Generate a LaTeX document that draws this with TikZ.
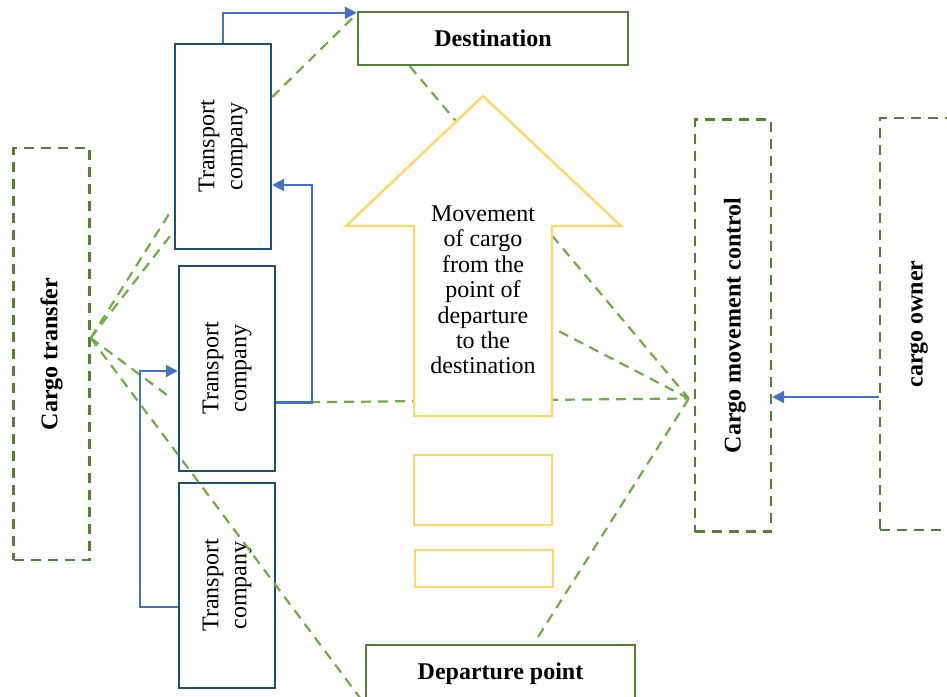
\documentclass[tikz,border=0pt]{standalone}
\usepackage{fontspec}
\setmainfont{Liberation Serif}
\usetikzlibrary{arrows.meta,calc}
\definecolor{dgreen}{HTML}{548235}
\definecolor{lgreen}{HTML}{70AD47}
\definecolor{dblue}{HTML}{1F4E79}
\definecolor{ablue}{HTML}{4472C4}
\definecolor{gold}{HTML}{FFD966}
\tikzset{
  destbox/.style={draw=dgreen, line width=1.2pt, fill=white, inner sep=0pt, font=\bfseries\fontsize{12}{14}\selectfont},
  tcbox/.style={draw=dblue, line width=1.2pt, inner sep=0pt, minimum width=48pt, minimum height=102.5pt},
  dashbox/.style={draw=dgreen, line width=1.2pt, dash pattern=on 5pt off 3.5pt, inner sep=0pt, minimum width=38pt, minimum height=206pt},
  vlabel/.style={rotate=90, font=\fontsize{12}{14}\selectfont, align=center, inner sep=0pt},
  vbold/.style={rotate=90, font=\bfseries\fontsize{12}{14}\selectfont, inner sep=0pt},
  link/.style={draw=lgreen, line width=1.1pt, dash pattern=on 5pt off 3.5pt},
  flow/.style={draw=ablue, line width=1.1pt, -{Triangle[length=6pt,width=6pt]}},
  ybox/.style={draw=gold, line width=1.2pt, inner sep=0pt},
  bigarrow/.style={draw=gold, line width=1.2pt, fill=white, line join=miter},
  arrowtext/.style={align=center, font=\fontsize{12}{12.7}\selectfont, inner sep=0pt}
}
\begin{document}
\begin{tikzpicture}[x=0.5pt,y=-0.5pt]
\useasboundingbox (0,0) rectangle (947,696);
\clip (0,0) rectangle (947,696);
% boxes
\node[destbox, minimum width=135pt, minimum height=26.5pt] (dest) at (493,38.5) {\raisebox{-1pt}{Destination}};
\node[tcbox] (tc1) at (223,146.5) {};
\node[tcbox] (tc2) at (227,368.5) {};
\node[tcbox] (tc3) at (227,585.5) {};
\node[vlabel] (tc1t) at (tc1) {Transport\\company};
\node[vlabel] (tc2t) at (tc2) {Transport\\company};
\node[vlabel] (tc3t) at (tc3) {Transport\\company};
\node[dashbox] (ct) at (51.5,354) {};
\node[vbold] (ctt) at (ct) {Cargo transfer};
\node[dashbox] (cmc) at (733,325.5) {};
\node[vbold] (cmct) at ($(cmc)+(2,0)$) {Cargo movement control};
\node[dashbox, minimum width=39pt] (own) at (919,324) {};
\node[vbold] (ownt) at (own) {cargo owner};
\node[destbox, minimum width=134.5pt, minimum height=29pt] (dep) at (500.5,674) {Departure point};
\node[ybox, minimum width=69pt, minimum height=35pt] (y1) at (483,490) {};
\node[ybox, minimum width=69pt, minimum height=18.5pt] (y2) at (484,568.5) {};
% hub points and free ends
\coordinate (cth) at ($(ct.east)+(0,-16)$);
\coordinate (cmh) at ($(cmc.west)+(-5,73)$);
\coordinate (fb) at (169,214);
\coordinate (fc) at (167,395);
\coordinate (fj) at (538,637);
\coordinate (hid) at (520,311);
% green dashed links
\draw[link] (cth) -- ($(tc1.south west)+(0,-19)$);
\draw[link] (cth) -- (fb);
\draw[link] (cth) -- (fc);
\draw[link] (cth) -- (dep.south west);
\draw[link] ($(tc1.east)+(0,-49.5)$) -- ($(dest.north west)+(0,3)$);
\draw[link] ($(dest.south west)+(53,0)$) -- (cmh);
\draw[link] ($(tc2.east)+(0,34)$) -- (cmh);
\draw[link] (cmh) -- (hid);
\draw[link] (cmh) -- (fj);
% big arrow
\draw[bigarrow] (483,96) -- (621,226) -- (552,226) -- (552,416) -- (414,416) -- (414,226) -- (346,226) -- cycle;
\node[arrowtext] (mvt) at (483,290) {Movement\\of cargo\\from the\\point of\\departure\\to the\\destination};
% blue flows
\draw[flow] (tc1.north) |- ($(dest.north west)+(0,2)$);
\coordinate (b2s) at ($(tc2.east)+(0,34)$);
\draw[flow] (b2s) -- ++(36,0) |- ($(tc1.east)+(0,38.5)$);
\coordinate (b3s) at ($(tc3.west)+(0,21.5)$);
\draw[flow] (b3s) -- ++(-38,0) |- ($(tc2.west)+(0,2.5)$);
\coordinate (ob) at ($(own.west)+(0,73)$);
\draw[flow] (ob) -- (ob -| cmc.east);
\end{tikzpicture}
\end{document}
